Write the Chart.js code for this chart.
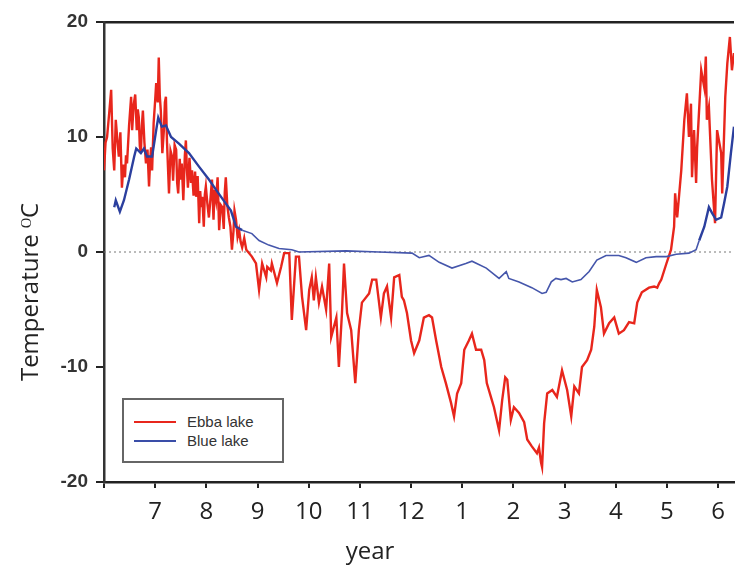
<!DOCTYPE html>
<html>
<head>
<meta charset="utf-8">
<script src="https://cdn.jsdelivr.net/npm/chart.js@4/dist/chart.umd.min.js"></script>
<style>
  html, body { margin: 0; padding: 0; background: #fff; }
  #wrap { position: relative; width: 735px; height: 567px; overflow: hidden; }
  #legend { position: absolute; left: 122px; top: 398px; width: 158px; height: 61px;
    border: 2px solid #666; background: #fff; font-family: "Liberation Sans", Arial, sans-serif;
    font-size: 15px; color: #333; }
  .item { position: absolute; left: 0; height: 18px; line-height: 18px; }
  .sw { position: absolute; left: 10px; top: 8px; width: 42px; height: 2px; }
  .lb { position: absolute; left: 63px; top: 0; white-space: nowrap; }
</style>
</head>
<body>
<div id="wrap">
  <canvas id="c" width="735" height="567"></canvas>
  <div id="legend"></div>
</div>
<script>
const monthLabels = ["", "7","8","9","10","11","12","1","2","3","4","5","6"];
const yTicks = [-20, -10, 0, 10, 20];

const ebbaMonth = [0.00,0.03,0.06,0.10,0.14,0.17,0.20,0.23,0.26,0.29,
0.32,0.35,0.38,0.41,0.43,0.45,0.49,0.53,0.55,0.58,
0.61,0.64,0.66,0.68,0.70,0.72,0.74,0.76,0.79,0.82,
0.85,0.88,0.90,0.92,0.94,0.97,1.00,1.02,1.05,1.07,
1.09,1.11,1.14,1.17,1.19,1.21,1.23,1.25,1.27,1.30,
1.33,1.35,1.38,1.41,1.43,1.45,1.48,1.50,1.52,1.55,
1.58,1.60,1.62,1.64,1.67,1.70,1.72,1.75,1.78,1.80,
1.83,1.86,1.88,1.90,1.92,1.95,1.97,1.99,2.02,2.05,
2.08,2.11,2.14,2.16,2.19,2.22,2.25,2.28,2.31,2.34,
2.36,2.38,2.41,2.44,2.47,2.50,2.53,2.55,2.58,2.61,
2.64,2.67,2.70,2.74,2.78,
2.89,2.97,3.03,3.09,3.17,3.19,3.26,3.28,3.38,3.46,
3.52,3.62,3.67,3.75,3.81,3.87,3.95,4.01,4.06,4.10,
4.14,4.20,4.26,4.34,4.40,4.44,4.54,4.59,4.65,4.69,
4.75,4.83,4.91,4.98,5.04,5.18,5.24,5.32,5.41,5.47,
5.53,5.61,5.67,5.77,5.82,5.86,5.92,6.00,6.06,6.16,
6.25,6.35,6.41,6.49,6.59,6.68,6.78,6.84,6.90,6.98,
7.04,7.13,7.19,7.27,7.37,7.43,7.48,7.56,7.62,7.72,
7.78,7.84,7.88,7.95,8.01,8.11,8.21,8.27,8.36,8.46,
8.50,8.54,8.56,8.60,8.66,8.76,8.85,8.95,9.05,9.13,
9.19,9.28,9.34,9.44,9.52,9.58,9.63,9.71,9.77,9.87,
9.97,10.06,10.16,10.26,10.36,10.42,10.51,10.65,10.75,10.81,
10.85,10.89,10.99,11.08,11.14,11.16,11.20,11.28,11.34,11.39,
11.43,11.47,11.49,11.53,11.57,11.59,11.67,11.73,11.76,11.78,
11.82,11.88,11.94,11.98,12.06,12.08,12.14,12.18,12.23,12.27,
12.31];
const ebbaTemp = [7.1,9.5,10.0,12.0,14.1,9.0,7.1,11.5,9.8,8.3,
10.4,5.6,7.6,6.5,8.4,7.7,11.0,13.5,10.6,12.8,
13.7,10.6,12.4,11.7,9.2,8.6,11.0,12.3,9.5,7.7,
8.9,5.7,7.8,9.1,7.1,11.2,13.2,14.7,13.0,16.9,
13.6,12.3,8.6,10.6,13.0,13.5,9.7,7.4,5.1,8.8,
8.3,6.2,9.3,8.9,6.0,5.1,8.1,6.3,7.7,4.5,
8.4,9.7,7.2,5.6,8.2,6.0,7.1,4.9,7.0,4.8,
6.6,2.5,5.3,3.9,4.8,2.2,5.0,5.7,4.2,3.0,
4.6,6.3,2.8,5.4,4.5,6.5,1.9,4.1,3.9,2.0,
5.2,6.5,4.0,3.0,2.2,0.2,1.8,3.6,2.8,1.3,
1.9,0.9,0.4,1.2,0.2,
-0.4,-1.0,-3.3,-1.0,-2.2,-1.3,-1.6,-1.0,-2.7,-1.3,
-0.1,-0.1,-5.9,-0.4,-0.4,-3.9,-6.8,-3.3,-2.2,-4.2,
-2.2,-4.4,-3.0,-5.0,-1.0,-7.4,-5.7,-10.0,-5.3,-1.0,
-5.3,-6.8,-11.4,-6.8,-4.4,-3.6,-2.4,-2.4,-5.7,-3.6,
-3.0,-5.7,-2.2,-2.0,-3.9,-4.2,-5.3,-7.7,-8.8,-7.7,
-5.7,-5.5,-5.7,-7.7,-10.0,-11.4,-13.1,-14.3,-12.3,-11.4,
-8.5,-7.7,-7.1,-8.5,-8.5,-9.4,-11.4,-12.6,-13.5,-15.5,
-12.9,-10.9,-11.1,-14.6,-13.5,-14.0,-14.8,-16.3,-16.9,-17.5,
-17.0,-18.3,-18.7,-14.9,-12.3,-12.0,-12.6,-10.3,-12.0,-14.3,
-11.7,-12.3,-10.0,-9.4,-8.5,-6.5,-3.3,-4.8,-7.1,-6.2,
-5.7,-7.1,-6.8,-6.1,-6.2,-4.4,-3.5,-3.1,-3.0,-3.1,
-2.7,-2.4,-1.0,0.2,2.2,5.1,3.0,7.1,11.5,13.8,
10.0,12.9,6.5,10.6,6.0,9.1,15.8,14.3,17.0,11.5,
12.6,6.3,2.5,10.6,8.6,5.1,13.5,16.4,18.7,15.8,
17.3];

const blueMonth = [0.20,0.23,0.31,0.39,0.49,0.59,0.63,0.72,0.78,0.84,
0.94,1.02,1.06,1.13,1.21,1.31,1.47,1.66,1.86,2.05,
2.19,2.35,2.48,2.58,2.70,2.89,3.03,3.22,3.42,3.67,
3.81,4.73,5.37,6.02,6.16,6.35,6.55,6.80,7.07,7.19,
7.47,7.72,7.86,7.91,8.11,8.36,8.56,8.64,8.74,8.83,
8.93,9.03,9.15,9.32,9.48,9.63,9.81,10.06,10.20,10.40,
10.59,10.79,10.99,11.18,11.43,11.57,11.63,11.73,11.82,11.88,
11.96,12.06,12.12,12.18,12.25,12.31];
const blueTemp = [3.9,4.5,3.5,4.5,6.3,8.3,9.0,8.6,9.0,8.3,
8.3,10.6,11.7,10.9,11.0,10.0,9.4,8.6,7.4,6.3,
5.4,4.4,3.6,2.2,1.9,1.6,1.0,0.6,0.3,0.2,
0.0,0.1,0.0,-0.1,-0.5,-0.3,-0.9,-1.4,-1.0,-0.8,
-1.4,-2.3,-1.7,-2.3,-2.6,-3.1,-3.6,-3.5,-2.6,-2.3,
-2.4,-2.3,-2.6,-2.4,-1.7,-0.7,-0.3,-0.3,-0.5,-0.9,
-0.5,-0.4,-0.4,-0.2,-0.1,0.2,1.0,2.2,3.9,3.4,
2.8,3.0,4.3,5.7,8.6,10.9];

const seriesNames = ["Ebba lake", "Blue lake"];
const xMin = 0, xMax = 12.31;
const yTitle = "Temperature \u1D3CC";
const xTitle = "year";

function pts(xs, ys) { return xs.map((x, i) => ({ x: x, y: ys[i] })); }

const titlePlugin = {
  id: 'axisTitles',
  afterDraw(chart) {
    const ctx = chart.ctx, a = chart.chartArea;
    ctx.save();
    ctx.fillStyle = '#222';
    ctx.font = '24px "Open Sans"';
    ctx.textAlign = 'center';
    ctx.textBaseline = 'alphabetic';
    ctx.fillText(xTitle, 370, 559);
    ctx.translate(38, (a.top + a.bottom) / 2 + 40);
    ctx.rotate(-Math.PI / 2);
    ctx.fillText(yTitle, 0, 0);
    ctx.restore();
  }
};

const blueThick = (c) => (c.p0.parsed.x < 2.6 || c.p0.parsed.x > 11.6);

const chart = new Chart(document.getElementById('c'), {
  type: 'line',
  data: {
    datasets: [
      { label: seriesNames[1], data: pts(blueMonth, blueTemp), borderColor: '#3a4ea8', borderWidth: 1.6,
        pointRadius: 0, tension: 0, fill: false,
        segment: {
          borderWidth: (c) => blueThick(c) ? 2.4 : 1.6,
          borderColor: (c) => blueThick(c) ? '#2b3f9e' : '#4556ab'
        } },
      { label: seriesNames[0], data: pts(ebbaMonth, ebbaTemp), borderColor: '#e8261c', borderWidth: 2.4,
        pointRadius: 0, tension: 0, fill: false },
      { label: '', data: [{ x: xMin, y: 0 }, { x: xMax, y: 0 }], borderColor: '#777', borderWidth: 1,
        borderDash: [2, 3], pointRadius: 0, fill: false }
    ]
  },
  options: {
    responsive: false,
    animation: false,
    devicePixelRatio: 1,
    layout: { padding: 0 },
    plugins: { legend: { display: false }, tooltip: { enabled: false } },
    scales: {
      x: {
        type: 'linear', min: xMin, max: xMax, position: 'bottom',
        afterFit(s) { s.height = 85; },
        ticks: { stepSize: 1, includeBounds: false, autoSkip: false, maxRotation: 0, padding: 10,
          color: '#222', font: { family: 'Open Sans', size: 24 },
          callback: (v) => monthLabels[Math.round(v)] ?? '' },
        grid: { drawOnChartArea: false, drawTicks: true, tickLength: 6, color: '#222', lineWidth: 2 },
        border: { color: '#222', width: 2.5 }
      },
      xTop: {
        type: 'linear', min: xMin, max: xMax, position: 'top',
        afterFit(s) { s.height = 22; },
        ticks: { display: false },
        grid: { display: false },
        border: { display: true, color: '#222', width: 2.5 }
      },
      y: {
        min: -20, max: 20,
        afterFit(s) { s.width = 104; },
        afterBuildTicks(s) { s.ticks = yTicks.map(v => ({ value: v })); },
        ticks: { padding: 8, color: '#333', font: { family: 'Liberation Sans', size: 19, weight: 'bold' } },
        grid: { drawOnChartArea: false, drawTicks: true, tickLength: 8, color: '#222', lineWidth: 2 },
        border: { color: '#333', width: 2.5 }
      }
    }
  },
  plugins: [titlePlugin]
});

const legend = document.getElementById('legend');
[1, 0].forEach((idx, row) => {
  const ds = chart.data.datasets[idx];
  const item = document.createElement('div');
  item.className = 'item';
  item.style.top = (13 + row * 19) + 'px';
  item.style.width = '100%';
  const sw = document.createElement('div');
  sw.className = 'sw';
  sw.style.background = ds.borderColor;
  const lb = document.createElement('div');
  lb.className = 'lb';
  lb.textContent = ds.label;
  item.appendChild(sw); item.appendChild(lb);
  legend.appendChild(item);
});
</script>
</body>
</html>
